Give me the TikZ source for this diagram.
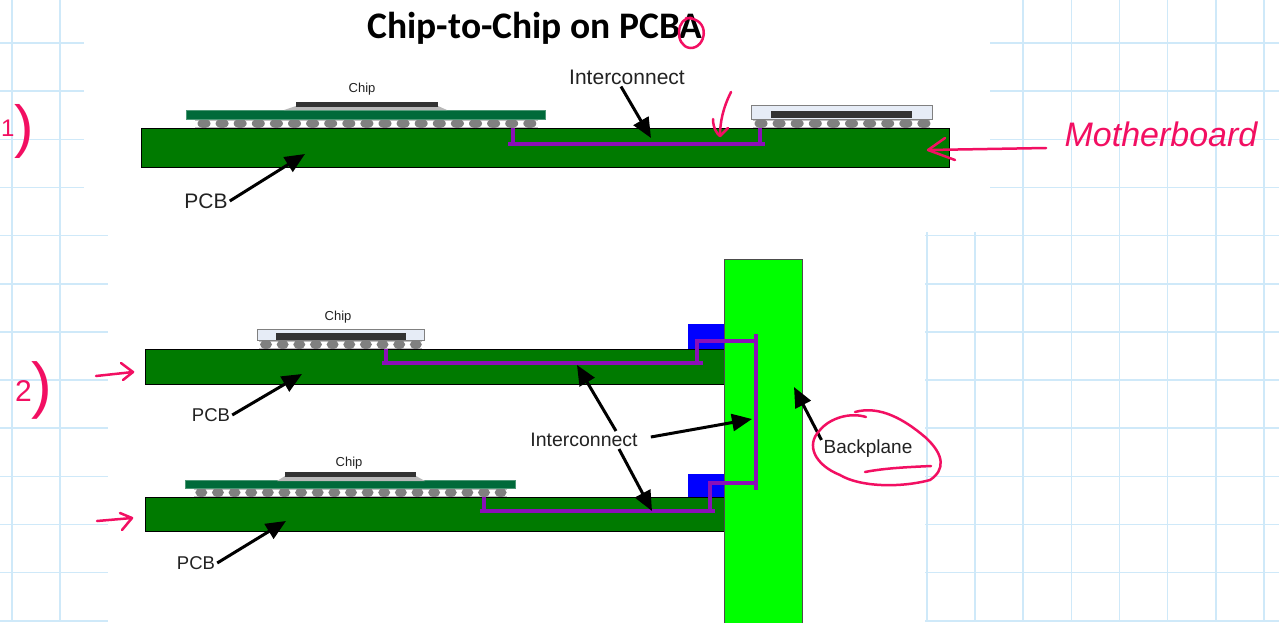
\documentclass[tikz,border=0pt]{standalone}
\usepackage{xcolor}
\usepackage{fontspec}
\setmainfont{Liberation Sans}
\newfontfamily\titlefont{Carlito}
\usepackage{tikz}
\usetikzlibrary{positioning, arrows.meta, calc}
\definecolor{gridblue}{HTML}{CFE9F9}
\definecolor{pcbgreen}{HTML}{007A00}
\definecolor{subgreen}{HTML}{006A3A}
\definecolor{planegreen}{HTML}{00FF00}
\definecolor{viapurple}{HTML}{8A0FB8}
\definecolor{ballgray}{HTML}{808080}
\definecolor{diegray}{HTML}{333333}
\definecolor{pkgblue}{HTML}{E6ECF6}
\definecolor{inkpink}{HTML}{F20F62}
\definecolor{labelgray}{HTML}{222222}
\tikzset{
  gridline/.style={draw=gridblue, line width=1.5pt},
  board/.style={fill=pcbgreen, draw=black, line width=1pt},
  substrate/.style={fill=subgreen, draw=subgreen!70!white, line width=.6pt},
  package/.style={fill=pkgblue, draw=gray, line width=1pt},
  die/.style={fill=diegray},
  underfill/.style={fill=gray!55},
  ball/.style={fill=ballgray},
  balledge/.style={draw=gray!50, line width=1pt},
  trace/.style={draw=viapurple, line width=3.5pt},
  callout/.style={draw=black, line width=3pt, -{Triangle[length=20pt, width=17pt]}},
  chiplabel/.style={text=labelgray, font=\fontsize{13}{15}\selectfont, inner sep=1pt},
  pcblabel/.style={text=labelgray, inner sep=2pt},
  ink/.style={draw=inkpink, line width=2.5pt, line cap=round, line join=round},
  inktext/.style={text=inkpink, inner sep=0pt}
}
\begin{document}
\begin{tikzpicture}[x=1pt, y=-1pt]
  \useasboundingbox (0,0) rectangle (1279,622);
  \fill[white] (0,0) rectangle (1279,622);
  % notebook grid
  \foreach \k in {0,...,26}
    \draw[gridline] ({12+48.15*\k},0) -- ({12+48.15*\k},622);
  \foreach \k in {0,...,12}
    \draw[gridline] (0,{43+48.15*\k}) -- (1279,{43+48.15*\k});
  \fill[white] (84,0) rectangle (990,232);
  \fill[white] (108,232) rectangle (925,622);

  \node[font=\titlefont\bfseries\fontsize{37.5}{40}\selectfont, inner sep=0pt] (title) at (535,28) {Chip-to-Chip on PCBA};

  % first board
  \draw[board] (141,128) rectangle (949,167);
  \draw[balledge] (195,120) -- (538,120) (195,127) -- (538,127);
  \foreach \n in {0,...,18}
    \fill[ball] ({204+18.1*\n},123.5) ellipse [x radius=6.5, y radius=4.5];
  \fill[substrate] (186,110) rectangle (545,119);
  \fill[underfill] (284,110) -- (296,106) -- (438,106) -- (447,110) -- cycle;
  \fill[die] (296,102) rectangle (438,107);
  \draw[balledge] (753,120) -- (930,120) (753,127) -- (930,127);
  \foreach \n in {0,...,9}
    \fill[ball] ({761+18.1*\n},123.5) ellipse [x radius=6.5, y radius=4.5];
  \draw[package] (751,105) rectangle (932,119);
  \fill[die] (771,111) rectangle (912,118);
  \draw[trace] (513,128) -- (513,144);
  \draw[trace] (760,128) -- (760,144);
  \draw[trace] (508,144) -- (765,144);

  \node[chiplabel] (chipA) at (362,89) {Chip};
  \node[pcblabel, font=\fontsize{21}{24}\selectfont] (pcbA) at (206,201) {PCB};
  \node[pcblabel, font=\fontsize{21}{24}\selectfont] (interA) at (627,77) {Interconnect};
  \coordinate (pcbAtip) at (305,154);
  \coordinate (interAtip) at (651,138);
  \draw[callout] (pcbA.east) -- (pcbAtip);
  \draw[callout] ($(interA.south)+(-6,0)$) -- (interAtip);

  % backplane and second pair of boards
  \fill[blue] (688,324) rectangle (724,349);
  \fill[blue] (688,474) rectangle (724,497);
  \draw[board] (145,349) rectangle (724,384);
  \draw[board] (145,497) rectangle (724,531);
  \draw[fill=planegreen, draw=black!70, line width=1pt] (724,259) rectangle (802,623);

  \draw[balledge] (259,341) -- (422,341) (259,348) -- (422,348);
  \foreach \n in {0,...,9}
    \fill[ball] ({266+16.65*\n},344.5) ellipse [x radius=6, y radius=4.5];
  \draw[package] (257,329) rectangle (424,340);
  \fill[die] (276,333) rectangle (406,340);

  \draw[balledge] (194,489) -- (507,489) (194,496) -- (507,496);
  \foreach \n in {0,...,18}
    \fill[ball] ({201.3+16.63*\n},492.5) ellipse [x radius=6, y radius=4.5];
  \fill[substrate] (185,480) rectangle (515,488);
  \fill[underfill] (277,481) -- (285,476) -- (416,476) -- (425,481) -- cycle;
  \fill[die] (285,472) rectangle (416,477);

  \draw[trace] (386,349) -- (386,363);
  \draw[trace] (382,363) -- (703,363);
  \draw[trace] (697,363) -- (697,341) -- (755,341);
  \draw[trace] (756,334) -- (756,490);
  \draw[trace] (756,483) -- (710,483) -- (710,511);
  \draw[trace] (480,511) -- (715,511);
  \draw[trace] (484,497) -- (484,511);

  \node[chiplabel] (chipB) at (338,317) {Chip};
  \node[chiplabel] (chipC) at (349,463) {Chip};
  \node[pcblabel, font=\fontsize{18.5}{22}\selectfont] (pcbB) at (211,415) {PCB};
  \node[pcblabel, font=\fontsize{18.5}{22}\selectfont] (pcbC) at (196,563) {PCB};
  \node[pcblabel, font=\fontsize{19.5}{22}\selectfont] (interB) at (584,440) {Interconnect};
  \node[pcblabel, font=\fontsize{19}{22}\selectfont] (backplane) at (868,449) {Backplane};
  \coordinate (pcbBtip) at (302,374);
  \coordinate (pcbCtip) at (286,521);
  \coordinate (interBtip) at (577,365);
  \coordinate (interCtip) at (752,419);
  \coordinate (interDtip) at (652,511);
  \coordinate (backplanetip) at (794,387);
  \draw[callout] (pcbB.east) -- (pcbBtip);
  \draw[callout] (pcbC.east) -- (pcbCtip);
  \draw[callout] ($(interB.north)+(32,0)$) -- (interBtip);
  \draw[callout] ($(interB.east)+(11,-3)$) -- (interCtip);
  \draw[callout] ($(interB.south)+(35,0)$) -- (interDtip);
  \draw[callout] ($(backplane.north west)+(0,2)$) -- (backplanetip);

  % red pen notes
  \draw[ink] (692,18) .. controls (676,16) and (674,46) .. (690,48) .. controls (706,49) and (712,18) .. (686,18);
  \draw[ink] (731,92) .. controls (723,108) and (720,122) .. (720,136) .. controls (717,134) and (713,128) .. (713,119);
  \draw[ink] (720,136) -- (728,128);
  \node[inktext, font=\fontsize{34}{36}\selectfont\itshape] (mother) at (1161,134) {Motherboard};
  \coordinate (mothertip) at (928,150);
  \coordinate (mothertail) at (1046,148);
  \draw[ink] (mothertail) -- (mothertip);
  \draw[ink] (945,138) -- (mothertip) -- (955,160);
  \node[inktext, anchor=base west] (stepA) at (1,146) {\raisebox{10pt}{\fontsize{24}{24}\selectfont 1}\fontsize{58}{58}\selectfont )};
  \node[inktext, anchor=base west] (stepB) at (15,406) {\raisebox{5pt}{\fontsize{30}{30}\selectfont 2}\fontsize{62}{62}\selectfont )};
  \coordinate (arrowAtail) at (96,376);
  \coordinate (arrowAtip) at (133,372);
  \coordinate (arrowBtail) at (97,521);
  \coordinate (arrowBtip) at (132,518);
  \draw[ink] (arrowAtail) -- (arrowAtip);
  \draw[ink] (121,363) -- (arrowAtip) -- (123,380);
  \draw[ink] (arrowBtail) -- (arrowBtip);
  \draw[ink] (120,513) -- (arrowBtip) -- (122,530);
  \draw[ink] (855,412) .. controls (880,405) and (905,420) .. (925,437)
    .. controls (945,455) and (945,470) .. (930,480)
    .. controls (900,488) and (860,487) .. (840,475)
    .. controls (815,465) and (805,445) .. (820,430)
    .. controls (830,418) and (850,412) .. (866,417);
  \draw[ink] (865,472) .. controls (885,468) and (910,467) .. (931,466);
\end{tikzpicture}
\end{document}
